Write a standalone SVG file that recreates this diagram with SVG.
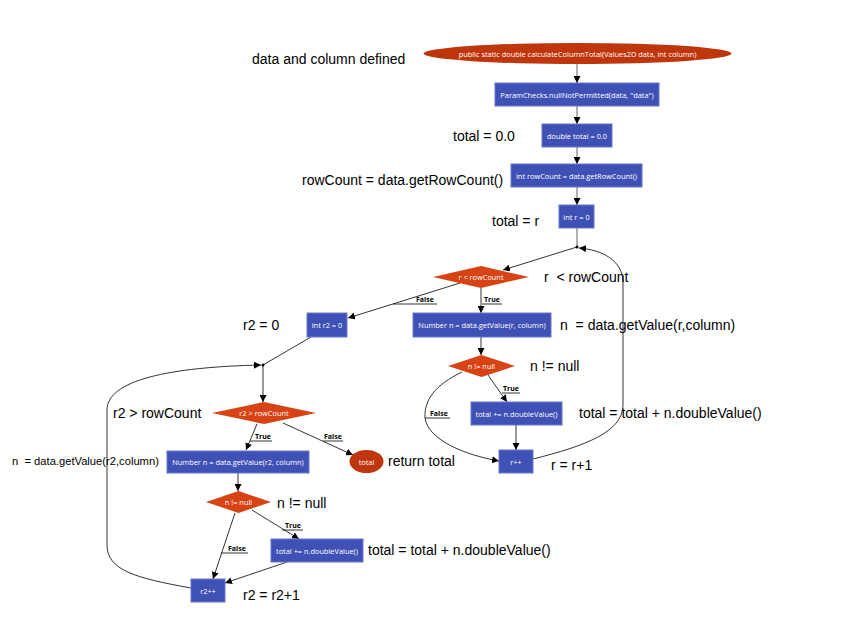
<svg xmlns="http://www.w3.org/2000/svg" width="866" height="622" viewBox="0 0 866 622">
<defs>
<marker id="arr" viewBox="0 0 10 10" refX="10" refY="5" markerWidth="7" markerHeight="7" orient="auto" markerUnits="userSpaceOnUse">
<path d="M0,0 L10,5 L0,10 z" fill="#000"/>
</marker>
</defs>
<style>
.box{fill:#3f51b5;stroke:#6a78c8;stroke-width:1}
.dia{fill:#d84315}
.ell{fill:#bf360c}
.nt{font-family:"Open Sans","Liberation Sans",sans-serif;font-size:7.4px;fill:#fff;text-anchor:middle;dominant-baseline:central}
.lb{font-family:"Liberation Sans",Arial,sans-serif;font-size:14px;fill:#000}
.el{font-family:"Open Sans","Liberation Sans",sans-serif;font-size:7px;font-weight:bold;fill:#000}
.ul{stroke:#000;stroke-width:0.8}
.g{stroke:#9e9e9e;stroke-width:1.6;fill:none}
.k{stroke:#000;stroke-width:0.8;fill:none}
</style>
<rect width="866" height="622" fill="#fff"/>

<g id="connectors">
<path class="g" d="M577,64 V83" marker-end="url(#arr)"/>
<path class="g" d="M577,106 V124" marker-end="url(#arr)"/>
<path class="g" d="M577,147 V164" marker-end="url(#arr)"/>
<path class="g" d="M577,187 V205" marker-end="url(#arr)"/>
<path class="g" d="M577,228 V247"/>
<circle cx="577" cy="247" r="1.5" fill="#000"/>
<path class="k" d="M577,247 L503,270" marker-end="url(#arr)"/>
<path class="k" d="M533,459 C585,446 623,432 623,405 L623,283 C623,260 602,250 579,248" marker-end="url(#arr)"/>
<path class="k" d="M460,283 L348,318" marker-end="url(#arr)"/>
<path class="k" d="M481,288 V313" marker-end="url(#arr)"/>
<path class="k" d="M481,337 V355" marker-end="url(#arr)"/>
<path class="k" d="M488,375 L507,402" marker-end="url(#arr)"/>
<path class="k" d="M516,425 V450" marker-end="url(#arr)"/>
<path class="k" d="M462,372 C435,385 424,400 425,418 C428,440 465,455 499,461" marker-end="url(#arr)"/>
<path class="k" d="M311,337 L263,365"/>
<circle cx="263" cy="365" r="1.5" fill="#000"/>
<path class="k" d="M191,588 C135,578 107,570 107,545 L107,410 C107,380 170,367 261,365" marker-end="url(#arr)"/>
<path class="k" d="M263,365 V402" marker-end="url(#arr)"/>
<path class="k" d="M257,424 L246,450" marker-end="url(#arr)"/>
<path class="k" d="M283,423 L353,455" marker-end="url(#arr)"/>
<path class="k" d="M238,473 V491" marker-end="url(#arr)"/>
<path class="k" d="M252,510 L299,539" marker-end="url(#arr)"/>
<path class="k" d="M235,513 L213,579" marker-end="url(#arr)"/>
<path class="k" d="M287,562 L225,583" marker-end="url(#arr)"/>
<line class="ul" x1="393" y1="304" x2="437" y2="304"/>
<text class="el" x="416" y="302">False</text>
<line class="ul" x1="482" y1="304" x2="502" y2="304"/>
<text class="el" x="484" y="302">True</text>
<line class="ul" x1="502" y1="393" x2="520" y2="393"/>
<text class="el" x="503" y="391">True</text>
<line class="ul" x1="425" y1="418" x2="450" y2="418"/>
<text class="el" x="430" y="416">False</text>
<line class="ul" x1="250" y1="441" x2="272" y2="441"/>
<text class="el" x="255" y="439">True</text>
<line class="ul" x1="323" y1="441" x2="343" y2="441"/>
<text class="el" x="324" y="439">False</text>
<line class="ul" x1="282" y1="530" x2="303" y2="530"/>
<text class="el" x="285" y="528">True</text>
<line class="ul" x1="221" y1="553" x2="248" y2="553"/>
<text class="el" x="228" y="551">False</text>
</g>

<g id="n_start"><ellipse class="ell" cx="577.5" cy="53.5" rx="154" ry="10.5"/><text class="nt" x="577.5" y="53.5">public static double calculateColumnTotal(Values2D data, int column)</text></g>
<g id="n_check"><rect class="box" x="495" y="83" width="164" height="23"/><text class="nt" x="577" y="94.5">ParamChecks.nullNotPermitted(data, "data")</text></g>
<g id="n_total"><rect class="box" x="542" y="124" width="70" height="23"/><text class="nt" x="577" y="135.5">double total = 0.0</text></g>
<g id="n_rowcount"><rect class="box" x="511" y="164" width="131" height="23"/><text class="nt" x="576.5" y="175.5">int rowCount = data.getRowCount()</text></g>
<g id="n_r0"><rect class="box" x="559" y="205" width="35" height="23"/><text class="nt" x="576.5" y="216.5">int r = 0</text></g>
<g id="n_cond1"><polygon class="dia" points="433,277 481,266 529,277 481,288"/><text class="nt" x="481" y="277">r &lt; rowCount</text></g>
<g id="n_r20"><rect class="box" x="307" y="313" width="40" height="24"/><text class="nt" x="327" y="325">int r2 = 0</text></g>
<g id="n_getv1"><rect class="box" x="413" y="313" width="138" height="24"/><text class="nt" x="482" y="325">Number n = data.getValue(r, column)</text></g>
<g id="n_null1"><polygon class="dia" points="448,366 481.5,355 515,366 481.5,377"/><text class="nt" x="481.5" y="366">n != null</text></g>
<g id="n_add1"><rect class="box" x="471" y="402" width="91" height="23"/><text class="nt" x="516.5" y="413.5">total += n.doubleValue()</text></g>
<g id="n_rinc"><rect class="box" x="499" y="450" width="34" height="23"/><text class="nt" x="516" y="461.5">r++</text></g>
<g id="n_cond2"><polygon class="dia" points="212,413 264,402 316,413 264,424"/><text class="nt" x="264" y="413">r2 &gt; rowCount</text></g>
<g id="n_getv2"><rect class="box" x="167" y="451" width="142" height="22"/><text class="nt" x="238" y="462">Number n = data.getValue(r2, column)</text></g>
<g id="n_ret"><ellipse class="ell" cx="366.5" cy="461.5" rx="17" ry="11.5"/><text class="nt" x="366.5" y="461.5">total</text></g>
<g id="n_null2"><polygon class="dia" points="206,502 238.5,491 271,502 238.5,513"/><text class="nt" x="238.5" y="502">n != null</text></g>
<g id="n_add2"><rect class="box" x="271" y="539" width="92" height="23"/><text class="nt" x="317" y="550.5">total += n.doubleValue()</text></g>
<g id="n_r2inc"><rect class="box" x="191" y="579" width="34" height="23"/><text class="nt" x="208" y="590.5">r2++</text></g>

<g id="annotations">
<text class="lb" x="252" y="64">data and column defined</text>
<text class="lb" x="453" y="141">total = 0.0</text>
<text class="lb" x="302" y="185">rowCount = data.getRowCount()</text>
<text class="lb" x="492" y="226">total = r</text>
<text class="lb" x="544" y="282" xml:space="preserve">r  &lt; rowCount</text>
<text class="lb" x="243" y="330">r2 = 0</text>
<text class="lb" x="560" y="330" xml:space="preserve">n  = data.getValue(r,column)</text>
<text class="lb" x="530" y="371">n != null</text>
<text class="lb" x="579" y="418">total = total + n.doubleValue()</text>
<text class="lb" x="113" y="418">r2 &gt; rowCount</text>
<text class="lb" x="12" y="465" style="font-size:11.2px" xml:space="preserve">n  = data.getValue(r2,column)</text>
<text class="lb" x="388" y="466">return total</text>
<text class="lb" x="551" y="470">r = r+1</text>
<text class="lb" x="277" y="508">n != null</text>
<text class="lb" x="368" y="555">total = total + n.doubleValue()</text>
<text class="lb" x="243" y="600">r2 = r2+1</text>
</g>
</svg>
